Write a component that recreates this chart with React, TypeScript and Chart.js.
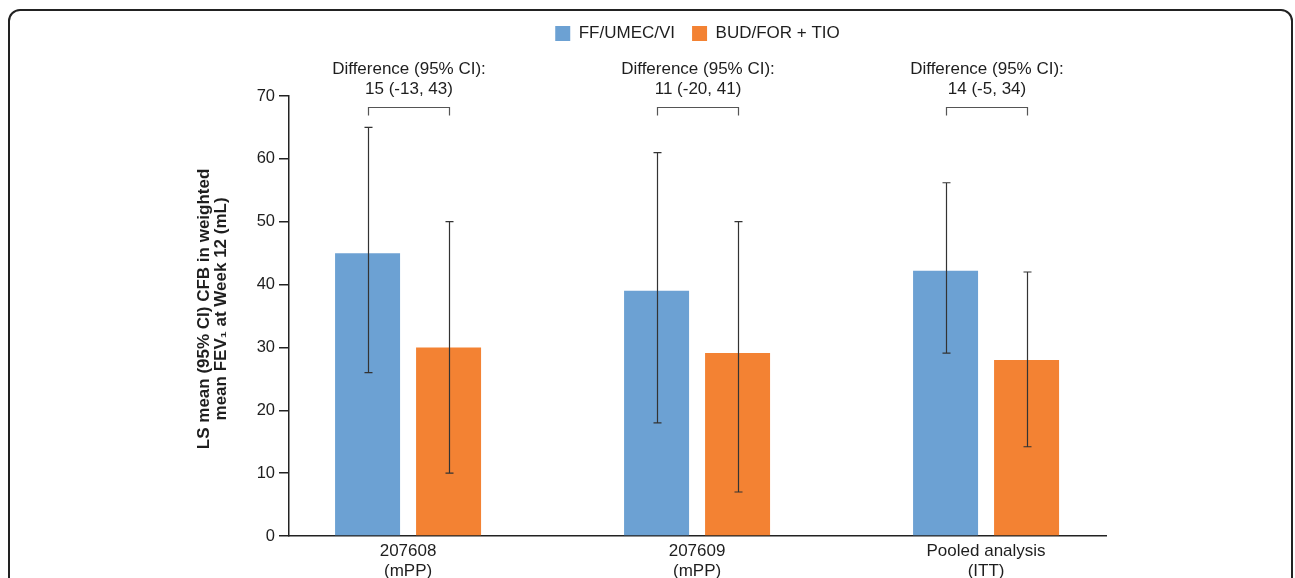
import React, { useEffect, useRef } from 'react';
import { Chart, registerables } from 'chart.js';

Chart.register(...registerables);

const categories = [['207608', '(mPP)'], ['207609', '(mPP)'], ['Pooled analysis', '(ITT)']];
const categoryPositions = [0, 1, 2];
const seriesNames = ['FF/UMEC/VI', 'BUD/FOR + TIO'];
const ffMeans = [45, 39, 42.2];
const ffLower = [26, 18, 29.1];
const ffUpper = [65, 61, 56.2];
const budMeans = [30, 29.1, 28];
const budLower = [10, 7, 14.2];
const budUpper = [50, 50, 42];
const differenceTitle = 'Difference (95% CI):';
const differenceValues = ['15 (-13, 43)', '11 (-20, 41)', '14 (-5, 34)'];
const yAxisTitle = ['   LS mean (95% CI) CFB in weighted', '   mean FEV\u2081 at Week 12 (mL)'];
const yMin = 0;
const yMax = 70;
const yStep = 10;

const FONT = '"Liberation Sans", Arial, Helvetica, sans-serif';
const BLUE = '#6CA1D3';
const ORANGE = '#F38233';
const TEXT = '#1e1e1e';

const errorBarPlugin = {
  id: 'errorBarsAndBrackets',
  afterDatasetsDraw(chart: any) {
    const ctx = chart.ctx;
    const yScale = chart.scales.y;
    const lows = [ffLower, budLower];
    const highs = [ffUpper, budUpper];
    ctx.save();
    ctx.strokeStyle = '#333';
    ctx.lineWidth = 1.2;
    for (let d = 0; d < 2; d++) {
      const meta = chart.getDatasetMeta(d);
      meta.data.forEach((bar: any, i: number) => {
        const x = Math.round(bar.x) + 0.5;
        const yl = yScale.getPixelForValue(lows[d][i]);
        const yh = yScale.getPixelForValue(highs[d][i]);
        ctx.beginPath();
        ctx.moveTo(x, yl);
        ctx.lineTo(x, yh);
        ctx.moveTo(x - 4, yh);
        ctx.lineTo(x + 4, yh);
        ctx.moveTo(x - 4, yl);
        ctx.lineTo(x + 4, yl);
        ctx.stroke();
      });
    }
    const m0 = chart.getDatasetMeta(0);
    const m1 = chart.getDatasetMeta(1);
    const by = chart.chartArea.top + 11.5;
    ctx.strokeStyle = '#555';
    ctx.lineWidth = 1.2;
    ctx.fillStyle = TEXT;
    ctx.font = `17px ${FONT}`;
    ctx.textAlign = 'center';
    ctx.textBaseline = 'middle';
    categoryPositions.forEach((_, i) => {
      const x1 = Math.round(m0.data[i].x) + 0.5;
      const x2 = Math.round(m1.data[i].x) + 0.5;
      ctx.beginPath();
      ctx.moveTo(x1, by + 8);
      ctx.lineTo(x1, by);
      ctx.lineTo(x2, by);
      ctx.lineTo(x2, by + 8);
      ctx.stroke();
      const cx = (x1 + x2) / 2;
      ctx.fillText(differenceTitle, cx, by - 38);
      ctx.fillText(differenceValues[i], cx, by - 18);
    });
    ctx.restore();
  },
};

export default function App() {
  const canvasRef = useRef<HTMLCanvasElement | null>(null);

  useEffect(() => {
    if (!canvasRef.current) return;
    const chart = new Chart(canvasRef.current, {
      type: 'bar',
      data: {
        datasets: [
          {
            label: seriesNames[0],
            data: categoryPositions.map((x, i) => ({ x, y: ffMeans[i] })),
            backgroundColor: BLUE,
            borderWidth: 0,
            categoryPercentage: 162 / 289,
            barPercentage: 65 / 81,
          },
          {
            label: seriesNames[1],
            data: categoryPositions.map((x, i) => ({ x, y: budMeans[i] })),
            backgroundColor: ORANGE,
            borderWidth: 0,
            categoryPercentage: 162 / 289,
            barPercentage: 65 / 81,
          },
        ],
      } as any,
      options: {
        animation: false,
        responsive: true,
        maintainAspectRatio: false,
        layout: { padding: { top: 8, left: 0, right: 189, bottom: 0 } },
        plugins: {
          legend: {
            display: true,
            position: 'top',
            fullSize: false,
            weight: 3000,
            labels: {
              boxWidth: 15,
              boxHeight: 15,
              padding: 17,
              color: TEXT,
              font: { family: FONT, size: 17 },
            },
          } as any,
          title: {
            display: true,
            text: '',
            padding: { top: 0, bottom: 23.6 },
            font: { family: FONT, size: 17, lineHeight: 1.2 },
          },
          tooltip: { enabled: false },
        },
        scales: {
          x: {
            type: 'linear',
            offset: false,
            min: -0.412,
            max: 2.415,
            afterBuildTicks: (scale: any) => {
              scale.ticks = categoryPositions.map((v) => ({ value: v }));
            },
            afterFit: (scale: any) => {
              scale.height = 42;
            },
            grid: { display: false, drawTicks: false },
            border: { display: true, color: '#222', width: 1.5 },
            ticks: {
              padding: 5,
              color: TEXT,
              font: { family: FONT, size: 17, lineHeight: 1.2 },
              maxRotation: 0,
              autoSkip: false,
              callback: (value: any) => {
                const idx = categoryPositions.indexOf(Number(value));
                return idx >= 0 ? categories[idx] : '';
              },
            },
          },
          y: {
            type: 'linear',
            min: yMin,
            max: yMax,
            afterFit: (scale: any) => {
              scale.width = 289;
            },
            grid: {
              display: true,
              drawOnChartArea: false,
              drawTicks: true,
              tickLength: 10,
              color: '#222',
              lineWidth: 1.5,
            },
            border: { display: true, color: '#222', width: 1.5 },
            ticks: {
              stepSize: yStep,
              padding: 4,
              color: TEXT,
              font: { family: FONT, size: 16.5 },
            },
            title: {
              display: true,
              text: yAxisTitle,
              color: TEXT,
              font: { family: FONT, size: 17, weight: 'bold', lineHeight: 1.05 },
              padding: { top: 195, bottom: 0 },
            },
          },
        },
      } as any,
      plugins: [errorBarPlugin],
    });
    return () => chart.destroy();
  }, []);

  return (
    <div
      style={{
        position: 'fixed',
        left: 0,
        top: 0,
        width: 1295,
        height: 578,
        overflow: 'hidden',
        background: '#fff',
      }}
    >
      <div
        style={{
          position: 'absolute',
          left: 8,
          top: 9,
          width: 1285,
          height: 700,
          border: '2px solid #222',
          borderRadius: 12,
          boxSizing: 'border-box',
        }}
      />
      <div style={{ position: 'absolute', left: 0, top: 0, width: 1295, height: 578 }}>
        <canvas ref={canvasRef} />
      </div>
    </div>
  );
}
